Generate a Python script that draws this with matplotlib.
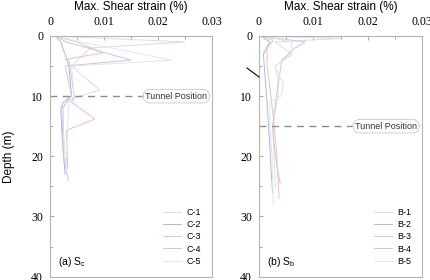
import matplotlib
matplotlib.use("Agg")
import matplotlib.pyplot as plt
from matplotlib.lines import Line2D

# --- data: (strain %, depth m) per monitoring line ---
c_labels = ["C-1", "C-2", "C-3", "C-4", "C-5"]
c_depth = [
    [0, 1, 2, 5, 9, 10, 11, 12, 16, 20, 22],
    [0, 1, 5, 10, 11, 12, 16, 20, 23],
    [0, 1, 2.8, 3.9, 4, 10, 11, 13.8, 15.7, 20, 22],
    [0, 1, 4, 5, 10, 12, 20, 24],
    [0, 1, 4, 5, 10, 11, 20, 22],
]
c_strain = [
    [0.0005, 0.025, 0.0075, 0.004, 0.0092, 0.0055, 0.003, 0.0025, 0.0025, 0.0028, 0.003],
    [0.001, 0.002, 0.0035, 0.004, 0.0025, 0.002, 0.0022, 0.0025, 0.0028],
    [0.0008, 0.005, 0.0098, 0.0028, 0.0035, 0.0045, 0.004, 0.0083, 0.003, 0.0032, 0.0033],
    [0.001, 0.003, 0.015, 0.0028, 0.004, 0.0022, 0.0025, 0.0034],
    [0.0005, 0.006, 0.0225, 0.004, 0.0045, 0.0035, 0.003, 0.003],
]

b_labels = ["B-1", "B-2", "B-3", "B-4", "B-5"]
b_depth = [
    [0, 0.4, 1, 3, 5, 7.3, 10, 15, 20, 25],
    [0, 1, 3, 10, 17, 22, 26],
    [0, 0.7, 2, 5, 10, 15, 20, 27],
    [0, 1, 2, 4, 10, 15, 20, 24.5],
    [0, 1, 3.2, 5, 8, 10, 11, 15, 20, 28],
]
b_strain = [
    [0.0005, 0.015, 0.003, 0.006, 0.003, 0.0035, 0.0035, 0.0025, 0.0028, 0.003],
    [0.0003, 0.002, 0.0008, 0.0014, 0.0019, 0.0022, 0.0025],
    [0.0005, 0.0026, 0.0015, 0.0015, 0.0022, 0.0028, 0.0033, 0.0037],
    [0.0003, 0.0085, 0.0066, 0.0042, 0.0032, 0.0025, 0.003, 0.0039],
    [0.0005, 0.006, 0.006, 0.003, 0.0045, 0.004, 0.002, 0.002, 0.0024, 0.0026],
]

tunnel_depth = [10, 15]
panel_names = ["(a) S$_\\mathregular{c}$", "(b) S$_\\mathregular{b}$"]

line_colors = ["#e0dae4", "#b4b4ee", "#f4bcc0", "#d0c4e4", "#d6ece4"]

serif = "Liberation Serif"
sans = "Liberation Sans"

fig = plt.figure(figsize=(4.3, 2.8), dpi=100)
ax1 = fig.add_axes([50 / 430, 0.012, 162 / 430, 0.8595])
ax2 = fig.add_axes([259 / 430, 0.012, 163 / 430, 0.8595])

panels = [
    (ax1, c_labels, c_depth, c_strain, tunnel_depth[0], panel_names[0]),
    (ax2, b_labels, b_depth, b_strain, tunnel_depth[1], panel_names[1]),
]

for ax, labels, depths, strains, tdep, pname in panels:
    for lab, d, s, col in zip(labels, depths, strains, line_colors):
        ax.plot(s, d, color=col, lw=0.7, label=lab)

    ax.axhline(tdep, color="#8c8c8c", lw=1.0, ls=(0, (5, 4)))
    ax.text(0.0234, tdep, "Tunnel Position", fontsize=6.5, family=sans,
            ha="center", va="center", color="#333333",
            bbox=dict(boxstyle="round,pad=0.25,rounding_size=0.8",
                      fc="white", ec="#c8c8c8", lw=0.6))

    ax.set_xlim(0, 0.03)
    ax.set_ylim(40, 0)
    ax.xaxis.tick_top()
    ax.xaxis.set_label_position("top")
    ax.set_xticks([0, 0.01, 0.02, 0.03])
    ax.set_xticklabels(["0", "0.01", "0.02", "0.03"])
    ax.set_xticks([0.005, 0.015, 0.025], minor=True)
    ax.set_yticks([0, 10, 20, 30, 40])
    ax.set_yticks([5, 15, 25, 35], minor=True)
    ax.tick_params(which="both", direction="in", color="#999999", width=0.6)
    ax.tick_params(which="major", length=3, labelsize=8.5)
    ax.tick_params(axis="x", which="major", pad=6)
    ax.tick_params(axis="y", which="major", pad=5)
    ax.tick_params(which="minor", length=2)
    for t in ax.get_xticklabels() + ax.get_yticklabels():
        t.set_family(serif)
    ax.set_xlabel("Max. Shear strain (%)", fontsize=8.5, family=sans, labelpad=4)
    for sp in ax.spines.values():
        sp.set_color("#b4b4b4")
        sp.set_linewidth(0.8)

    ax.text(0.05, 0.03, pname, transform=ax.transAxes, fontsize=7.5,
            family=sans, ha="left", va="bottom")
    ax.legend(loc="lower right", frameon=False, handlelength=2.0,
              labelspacing=0.35, borderaxespad=0.8, handletextpad=0.6,
              prop={"family": sans, "size": 6.5})

ax1.set_ylabel("Depth (m)", fontsize=8.5, family=sans, labelpad=12)

# small pointer mark left of panel (b)
fig.add_artist(Line2D([247 / 430, 259 / 430], [1 - 68 / 280, 1 - 77 / 280],
                      transform=fig.transFigure, color="black", lw=0.8))

fig.savefig("out.png", dpi=100)
